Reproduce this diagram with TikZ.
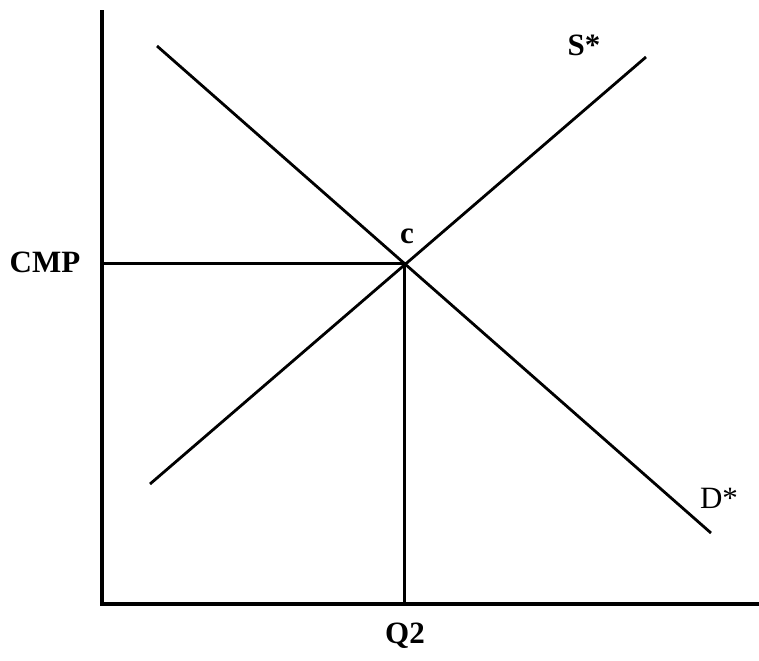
\documentclass[tikz,border=0pt]{standalone}
\usepackage{fontspec}
\setmainfont{Liberation Serif}
\usetikzlibrary{positioning}

\begin{document}
\begin{tikzpicture}[
  x=0.5pt, y=-0.5pt,
  axis/.style={line width=1.6pt},
  curve/.style={line width=1.4pt},
  guide/.style={line width=1.5pt},
  lbl/.style={font=\fontsize{15.5}{17}\selectfont\bfseries, inner sep=0pt},
  lblreg/.style={font=\fontsize{15.5}{17}\selectfont, inner sep=0pt}
]
\useasboundingbox (0,0) rectangle (759,660);

% axes
\coordinate (origin) at (102,604);
\coordinate (ytop)   at (102,10);
\coordinate (xend)   at (759,604);
\draw[axis] (ytop) -- (origin) -- (xend);

% demand and supply
\coordinate (dtop) at (157,46);
\coordinate (dbot) at (711,533);
\coordinate (sbot) at (150,484);
\coordinate (stop) at (646,57);
\draw[curve] (dtop) -- (dbot);
\draw[curve] (sbot) -- (stop);

% equilibrium
\coordinate (eq)   at (404,263);
\coordinate (eqy)  at (102,263);
\coordinate (eqx)  at (404,604);
\draw[guide] (eqy) -- (eq) -- (eqx);

\node[lbl]    (cmp)   at (45,262)  {CMP};
\node[lbl]    (q2)    at (405,636) {Q2};
\node[lbl]    (c)     at (407,236) {c};
\node[lbl]    (slbl)  at (584,45)  {S*};
\node[lblreg] (dlbl)  at (719,498) {D*};

\end{tikzpicture}
\end{document}
